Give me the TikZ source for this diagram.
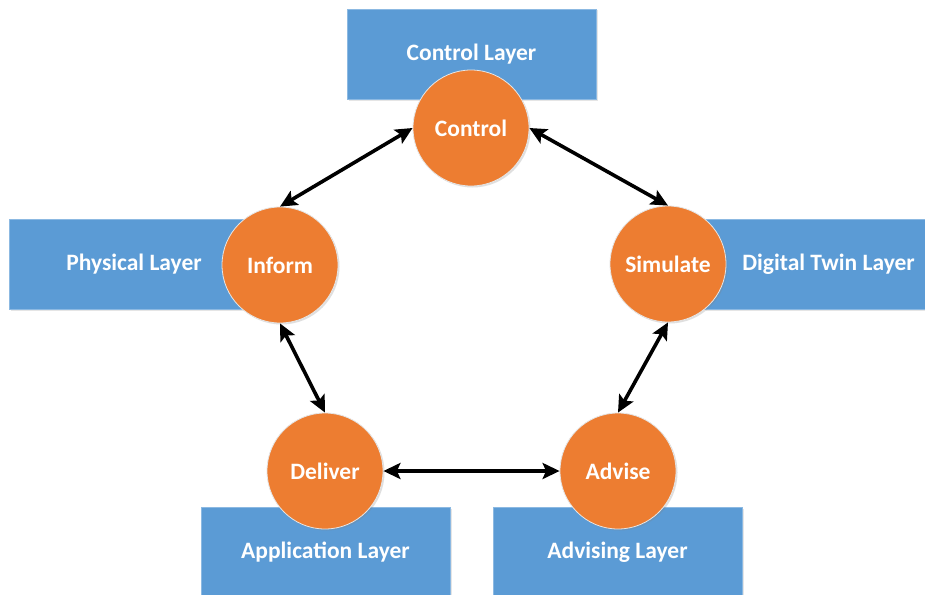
\documentclass[tikz,border=0pt]{standalone}
\usepackage{fontspec}
\setmainfont{Carlito}
\usetikzlibrary{arrows.meta,shadows}
\definecolor{layerblue}{HTML}{5B9BD5}
\definecolor{stageorange}{HTML}{ED7D31}
\tikzset{
  layerbox/.style={rectangle, fill=layerblue, draw=layerblue!70!white, line width=0.6pt,
    minimum width=249pt, minimum height=90pt, inner sep=0pt,
    text=white, font=\bfseries\fontsize{23.5}{26}\selectfont,
    drop shadow={opacity=0.2, shadow xshift=1.5pt, shadow yshift=-1.5pt}},
  stage/.style={circle, fill=stageorange, draw=white!80!gray, line width=0.8pt,
    minimum size=116pt, inner sep=0pt,
    text=white, font=\bfseries\fontsize{23.5}{26}\selectfont,
    drop shadow={opacity=0.25, shadow xshift=1.5pt, shadow yshift=-1.5pt}},
  link/.style={line width=3.6pt, draw=black,
    {Stealth[length=17pt,width=16pt,inset=3.5pt]}-{Stealth[length=17pt,width=16pt,inset=3.5pt]}}
}
\begin{document}
\begin{tikzpicture}[x=1pt,y=-1pt]
  \useasboundingbox[fill=white] (0,0) rectangle (925,594);

  % layer boxes
  \node[layerbox] (ctrlLayer) at (471.5,54) {Control Layer};
  \node[layerbox] (physLayer) at (134,264) {Physical Layer};
  \node[layerbox] (twinLayer) at (828.5,264) {Digital Twin Layer};
  \node[layerbox] (appLayer) at (325.5,552) {Application Layer};
  \node[layerbox] (advLayer) at (617.5,552) {Advising Layer};

  % stages of the cycle
  \node[stage] (control)  at (471,128) {Control};
  \node[stage] (inform)   at (280,265) {Inform};
  \node[stage] (simulate) at (668,264) {Simulate};
  \node[stage] (deliver)  at (325,471) {Deliver};
  \node[stage] (advise)   at (618,471) {Advise};

  % two-way links between the stages
  \draw[link] (control.west) -- (inform.north);
  \draw[link] (control.east) -- (simulate.north);
  \draw[link] (inform.south) -- (deliver.north);
  \draw[link] (deliver.east) -- (advise.west);
  \draw[link] (advise.north) -- (simulate.south);
\end{tikzpicture}
\end{document}
